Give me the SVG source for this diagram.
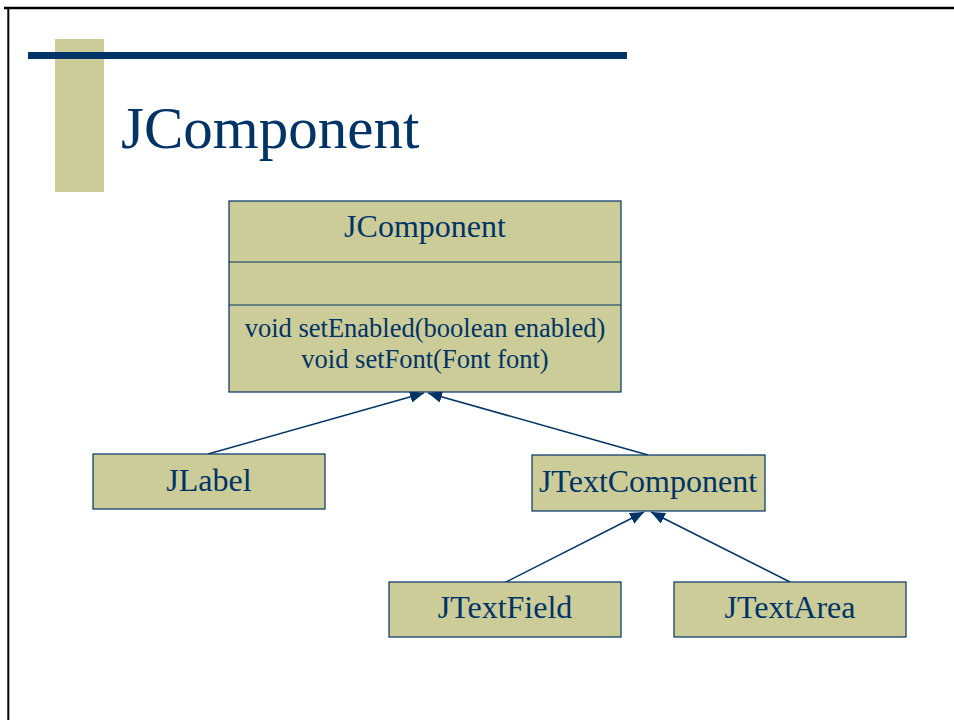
<svg xmlns="http://www.w3.org/2000/svg" width="954" height="720" viewBox="0 0 954 720">
  <style>
    .box { fill: #CCCC99; stroke: #003366; stroke-width: 1.2; }
    .div { stroke: #003366; stroke-width: 1.2; }
    .name { font-family: "Liberation Serif", "Times New Roman", serif; font-size: 32px; fill: #003366; text-anchor: middle; }
    .meth { font-family: "Liberation Serif", "Times New Roman", serif; font-size: 26.5px; fill: #003366; text-anchor: middle; }
    .title { font-family: "Liberation Serif", "Times New Roman", serif; font-size: 59px; fill: #003366; }
    .edge { stroke: #003366; stroke-width: 1.5; fill: none; marker-end: url(#tri); }
  </style>
  <defs>
    <marker id="tri" viewBox="0 0 14 12" refX="14" refY="6" markerWidth="14" markerHeight="12" markerUnits="userSpaceOnUse" orient="auto">
      <path d="M0,0 L14,6 L0,12 Z" fill="#003366"/>
    </marker>
  </defs>
  <rect x="0" y="0" width="954" height="720" fill="#ffffff"/>
  <g id="frame">
    <line x1="4" y1="8" x2="954" y2="8" stroke="#000" stroke-width="2.5"/>
    <line x1="8.3" y1="7" x2="8.3" y2="720" stroke="#000" stroke-width="2"/>
  </g>
  <g id="decor">
    <rect x="55" y="39" width="49" height="153" fill="#CCCC99"/>
    <rect x="28" y="52" width="599" height="7" fill="#003366"/>
  </g>
  <g id="title">
    <text class="title" x="121" y="148">JComponent</text>
  </g>
  <g id="connectors">
    <line class="edge" x1="208" y1="454" x2="424" y2="393"/>
    <line class="edge" x1="648" y1="455" x2="428" y2="393"/>
    <line class="edge" x1="506" y1="582" x2="644" y2="512"/>
    <line class="edge" x1="790" y1="582" x2="651" y2="512"/>
  </g>
  <g id="JComponent">
    <rect class="box" x="229" y="201" width="392" height="191"/>
    <line class="div" x1="229" y1="262" x2="621" y2="262"/>
    <line class="div" x1="229" y1="305" x2="621" y2="305"/>
    <text class="name" x="425" y="237">JComponent</text>
    <text class="meth" x="425" y="337">void setEnabled(boolean enabled)</text>
    <text class="meth" x="425" y="368">void setFont(Font font)</text>
  </g>
  <g id="JLabel">
    <rect class="box" x="93" y="454" width="232" height="55"/>
    <text class="name" x="209" y="491">JLabel</text>
  </g>
  <g id="JTextComponent">
    <rect class="box" x="532" y="455" width="233" height="56"/>
    <text class="name" x="648" y="492">JTextComponent</text>
  </g>
  <g id="JTextField">
    <rect class="box" x="389" y="582" width="232" height="55"/>
    <text class="name" x="505" y="618">JTextField</text>
  </g>
  <g id="JTextArea">
    <rect class="box" x="674" y="582" width="232" height="55"/>
    <text class="name" x="790" y="618">JTextArea</text>
  </g>
</svg>
